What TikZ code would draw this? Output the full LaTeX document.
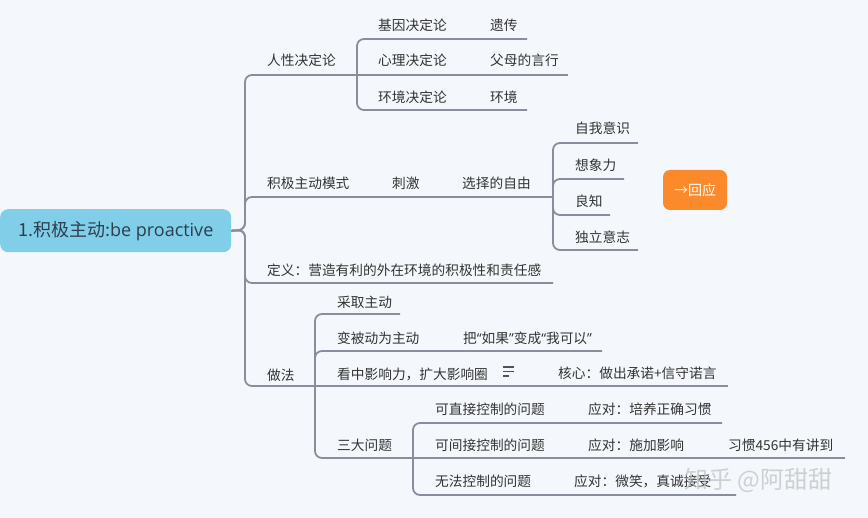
\documentclass[tikz,border=0pt]{standalone}
\usepackage{fontspec}
\setmainfont{Noto Sans CJK SC}
\newfontfamily\latinfont{Open Sans}
\newcommand\myLq{{\latinfont “}}
\newcommand\myRq{{\latinfont ”}}
\definecolor{bgc}{RGB}{244,248,252}
\definecolor{linec}{RGB}{138,142,156}
\definecolor{textc}{RGB}{51,51,51}
\definecolor{rootc}{RGB}{129,206,232}
\definecolor{roottext}{RGB}{45,62,80}
\definecolor{orangec}{RGB}{250,138,44}
\begin{document}
\begin{tikzpicture}[x=1pt,y=-1pt,
  txt/.style={anchor=base west,inner sep=0pt,text=textc,font=\fontsize{13.7}{16}\selectfont},
  br/.style={draw=linec,line width=1.8pt,rounded corners=7pt}]
\fill[bgc] (0,0) rectangle (868,518);
\useasboundingbox (0,0) rectangle (868,518);
% root
\node[fill=rootc, rounded corners=8pt, minimum width=231pt, minimum height=43pt,
      anchor=north west, inner sep=0pt, text=roottext,
      font=\fontsize{18}{20}\selectfont] (root) at (0,209) {1.积极主动:{\latinfont be proactive}};
% junctions and ends
\coordinate (J0) at (245,230);
\coordinate (P1) at (357,75);
\coordinate (E11) at (527,39);
\coordinate (E12) at (568,75);
\coordinate (E13) at (527,110);
\coordinate (P2) at (553,197);
\coordinate (E21) at (638,143);
\coordinate (E22) at (624,179);
\coordinate (E23) at (610,215);
\coordinate (E24) at (638,250);
\coordinate (E3) at (553,283);
\coordinate (P4) at (315,386);
\coordinate (E41) at (400,314);
\coordinate (E42) at (602,351);
\coordinate (E43) at (728,386);
\coordinate (P44) at (413,458);
\coordinate (E441) at (722,423);
\coordinate (E442) at (845,458);
\coordinate (E443) at (736,495);
% branches
\draw[br] (root.east) -- (J0) |- (P1);
\draw[br] (root.east) -- (J0) |- (P2);
\draw[br] (root.east) -- (J0) |- (E3);
\draw[br] (root.east) -- (J0) |- (P4);
\draw[br] (P1) |- (E11);
\draw[br] (P1) -- (E12);
\draw[br] (P1) |- (E13);
\draw[br] (P2) |- (E21);
\draw[br] (P2) |- (E22);
\draw[br] (P2) |- (E23);
\draw[br] (P2) |- (E24);
\draw[br] (P4) |- (E41);
\draw[br] (P4) |- (E42);
\draw[br] (P4) -- (E43);
\draw[br] (P4) |- (P44);
\draw[br] (P44) |- (E441);
\draw[br] (P44) -- (E442);
\draw[br] (P44) |- (E443);
% texts
\node[txt] (t1) at (267,66) {人性决定论};
\node[txt] (t11) at (378,31) {基因决定论};
\node[txt] (t11b) at (490,31) {遗传};
\node[txt] (t12) at (378,66) {心理决定论};
\node[txt] (t12b) at (490,66) {父母的言行};
\node[txt] (t13) at (378,103) {环境决定论};
\node[txt] (t13b) at (490,103) {环境};
\node[txt] (t2) at (267,189) {积极主动模式};
\node[txt] (t2b) at (392,189) {刺激};
\node[txt] (t2c) at (462,189) {选择的自由};
\node[txt] (t21) at (575,134) {自我意识};
\node[txt] (t22) at (575,171) {想象力};
\node[txt] (t23) at (575,207) {良知};
\node[txt] (t24) at (575,243) {独立意志};
\node[fill=orangec, rounded corners=7pt, minimum width=64pt, minimum height=40pt,
      inner sep=0pt, text=white, font=\fontsize{14}{16}\selectfont] (resp) at (695,190) {→回应};
\node[txt] (t3) at (267,276) {定义：营造有利的外在环境的积极性和责任感};
\node[txt] (t4) at (267,381) {做法};
\node[txt] (t41) at (337,308) {采取主动};
\node[txt] (t42) at (337,344) {变被动为主动};
\node[txt] (t42b) at (463,344) {把\myLq 如果\myRq 变成\myLq 我可以\myRq};
\node[txt] (t43) at (337,380) {看中影响力，扩大影响圈};
\node[txt] (t43b) at (558,379) {核心：做出承诺+信守诺言};
\node[txt] (t44) at (337,451) {三大问题};
\node[txt] (t441) at (435,415) {可直接控制的问题};
\node[txt] (t441b) at (588,415) {应对：培养正确习惯};
\node[txt] (t442) at (435,451) {可间接控制的问题};
\node[txt] (t442b) at (588,451) {应对：施加影响};
\node[txt] (t442c) at (728,451) {习惯456中有讲到};
\node[txt] (t443) at (435,486) {无法控制的问题};
\node[txt] (t443b) at (574,486) {应对：微笑，真诚接受};
% note icon
\draw[textc!85, line width=1.3pt] (503,367) -- (514,367) (503,371.5) -- (514,371.5) (503,376) -- (509,376);
% watermark
\node[anchor=west, inner sep=0pt, text=gray!50, opacity=0.7,
      font=\fontsize{24}{26}\selectfont] (wm) at (684,480) {知乎 @阿甜甜};
\end{tikzpicture}
\end{document}
